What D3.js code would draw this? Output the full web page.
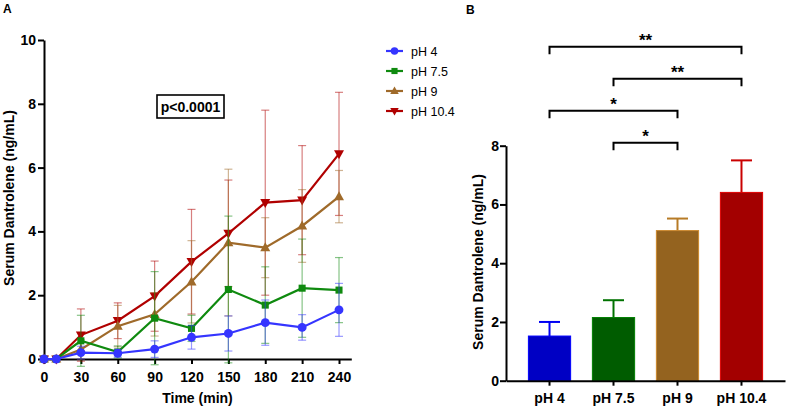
<!DOCTYPE html>
<html>
<head>
<meta charset="utf-8">
<script src="https://cdn.jsdelivr.net/npm/d3@7"></script>
<style>
  html, body { margin: 0; padding: 0; background: #fff; }
  svg { display: block; font-family: "Liberation Sans", Arial, sans-serif; }
  .axis path, .axis line { stroke: #000; stroke-width: 2px; }
  .axis text { font-size: 14px; font-weight: bold; fill: #000; }
</style>
</head>
<body>
<svg id="chart" width="789" height="408"></svg>
<script>
// Panel A: time course, mean and SD per pH group
var times = [0, 10, 30, 60, 90, 120, 150, 180, 210, 240];
var timeTicks = [0, 30, 60, 90, 120, 150, 180, 210, 240];
var seriesNames = ['pH 4', 'pH 7.5', 'pH 9', 'pH 10.4'];
var meanPH4 = [0, 0, 0.2, 0.18, 0.31, 0.68, 0.8, 1.14, 0.99, 1.54];
var sdPH4 = [0, 0, 0.2, 0.12, 0.26, 0.37, 0.55, 0.71, 0.4, 0.83];
var meanPH75 = [0, 0, 0.57, 0.22, 1.28, 0.96, 2.18, 1.69, 2.22, 2.16];
var sdPH75 = [0, 0, 0.8, 0.19, 1.46, 0.41, 2.3, 1.2, 1.54, 1.02];
var meanPH9 = [0, 0, 0.3, 1.03, 1.4, 2.42, 3.65, 3.49, 4.17, 5.09];
var sdPH9 = [0, 0, 0.3, 0.65, 0.68, 1.29, 2.3, 0.94, 1.14, 0.82];
var meanPH104 = [0, 0, 0.75, 1.2, 1.97, 3.05, 3.94, 4.9, 4.98, 6.43];
var sdPH104 = [0, 0, 0.82, 0.56, 1.1, 1.64, 1.67, 2.9, 1.71, 1.93];
var yTicksA = [0, 2, 4, 6, 8, 10];

// Panel B: mean at 240 min with upper SD
var barMeans = [1.52, 2.15, 5.11, 6.41];
var barErrs = [0.48, 0.59, 0.41, 1.09];
var yTicksB = [0, 2, 4, 6, 8];
// [left group, right group, label], top bracket first
var comparisons = [
  ['pH 4', 'pH 10.4', '**'],
  ['pH 7.5', 'pH 10.4', '**'],
  ['pH 4', 'pH 9', '*'],
  ['pH 7.5', 'pH 9', '*']
];

var lineColors = ['#3535ff', '#0f8a0f', '#9f6a2a', '#b00000'];
var barColors = ['#0000c4', '#005c00', '#94631f', '#a30000'];
var symbols = [d3.symbolCircle, d3.symbolSquare, 'up', 'down'];

var svg = d3.select('#chart');

// Triangle path, pointing up or down, centred on 0,0
function triangle(dir, s) {
  var h = s * 0.9;
  if (dir === 'up') {
    return 'M0,' + (-h * 0.6) + 'L' + (s / 2) + ',' + (h * 0.4) + 'L' + (-s / 2) + ',' + (h * 0.4) + 'Z';
  }
  return 'M0,' + (h * 0.6) + 'L' + (s / 2) + ',' + (-h * 0.4) + 'L' + (-s / 2) + ',' + (-h * 0.4) + 'Z';
}

function markerPath(sym, big) {
  if (sym === 'up' || sym === 'down') {
    return triangle(sym, big ? 10 : 8.5);
  }
  var size = sym === d3.symbolSquare ? (big ? 50 : 38) : (big ? 62 : 44);
  return d3.symbol().type(sym).size(size)();
}

// ---------- Panel A ----------
var xA = d3.scaleLinear().domain([0, 250]).range([44, 351.3]);
var yA = d3.scaleLinear().domain([0, 10]).range([359, 40]);

var gA = svg.append('g');

gA.append('g')
  .attr('class', 'axis')
  .attr('transform', 'translate(0,' + yA(0) + ')')
  .call(d3.axisBottom(xA).tickValues(timeTicks).tickSize(5).tickSizeOuter(0).tickPadding(8));

gA.append('g')
  .attr('class', 'axis')
  .attr('transform', 'translate(' + xA(0) + ',0)')
  .call(d3.axisLeft(yA).tickValues(yTicksA).tickSize(6).tickSizeOuter(0).tickPadding(2));

var seriesData = [
  { name: seriesNames[0], mean: meanPH4, sd: sdPH4 },
  { name: seriesNames[1], mean: meanPH75, sd: sdPH75 },
  { name: seriesNames[2], mean: meanPH9, sd: sdPH9 },
  { name: seriesNames[3], mean: meanPH104, sd: sdPH104 }
];

var line = d3.line()
  .x(function(d) { return xA(d.t); })
  .y(function(d) { return yA(d.m); });

// Draw highest pH first so pH 4 ends on top
for (var s = seriesData.length - 1; s >= 0; s--) {
  var ser = seriesData[s];
  var pts = times.map(function(t, i) { return { t: t, m: ser.mean[i], sd: ser.sd[i] }; });
  var gs = gA.append('g');
  var col = lineColors[s];

  var eb = gs.selectAll('.eb').data(pts.filter(function(d) { return d.sd > 0; }))
    .enter().append('g')
    .attr('stroke', col)
    .attr('stroke-opacity', 0.5)
    .attr('stroke-width', 1.2);
  eb.append('line')
    .attr('x1', function(d) { return xA(d.t); })
    .attr('x2', function(d) { return xA(d.t); })
    .attr('y1', function(d) { return yA(d.m - d.sd); })
    .attr('y2', function(d) { return yA(d.m + d.sd); });
  [1, -1].forEach(function(sign) {
    eb.append('line')
      .attr('x1', function(d) { return xA(d.t) - 4; })
      .attr('x2', function(d) { return xA(d.t) + 4; })
      .attr('y1', function(d) { return yA(d.m + sign * d.sd); })
      .attr('y2', function(d) { return yA(d.m + sign * d.sd); });
  });

  gs.append('path')
    .datum(pts)
    .attr('fill', 'none')
    .attr('stroke', col)
    .attr('stroke-width', 2.2)
    .attr('d', line);

  gs.selectAll('.mk').data(pts).enter().append('path')
    .attr('transform', function(d) { return 'translate(' + xA(d.t) + ',' + yA(d.m) + ')'; })
    .attr('d', markerPath(symbols[s], true))
    .attr('fill', col);
}

// p-value box
var pBox = gA.append('g');
pBox.append('rect')
  .attr('x', 157).attr('y', 95)
  .attr('width', 67).attr('height', 23)
  .attr('fill', '#fff').attr('stroke', '#000').attr('stroke-width', 1.6);
pBox.append('text')
  .attr('x', 190.5).attr('y', 111.5)
  .attr('text-anchor', 'middle')
  .style('font-size', '14px').style('font-weight', 'bold')
  .text('p<0.0001');

// Legend
var legend = gA.append('g').attr('transform', 'translate(386,51)');
seriesNames.forEach(function(name, i) {
  var li = legend.append('g').attr('transform', 'translate(0,' + (i * 20) + ')');
  li.append('line')
    .attr('x1', 0).attr('x2', 17)
    .attr('stroke', lineColors[i]).attr('stroke-width', 2.2);
  li.append('path')
    .attr('transform', 'translate(8.5,0)')
    .attr('d', markerPath(symbols[i], false))
    .attr('fill', lineColors[i]);
  li.append('text')
    .attr('x', 25).attr('y', 4.5)
    .style('font-size', '12.5px')
    .text(name);
});

gA.append('text')
  .attr('x', xA(0) + (xA(240) - xA(0)) / 2 + 6).attr('y', 403)
  .attr('text-anchor', 'middle')
  .style('font-size', '14px').style('font-weight', 'bold')
  .text('Time (min)');

gA.append('text')
  .attr('transform', 'translate(14,198) rotate(-90)')
  .attr('text-anchor', 'middle')
  .style('font-size', '14px').style('font-weight', 'bold')
  .text('Serum Dantrolene (ng/mL)');

gA.append('text')
  .attr('x', 3).attr('y', 13)
  .style('font-size', '12px').style('font-weight', 'bold')
  .text('A');

// ---------- Panel B ----------
var xB = d3.scaleBand().domain(seriesNames).range([506, 785])
  .paddingInner(0.34).paddingOuter(0.35);
var yB = d3.scaleLinear().domain([0, 8]).range([380.7, 145.7]);

var gB = svg.append('g');

var bars = seriesNames.map(function(n, i) {
  return { name: n, mean: barMeans[i], err: barErrs[i], color: barColors[i] };
});

// Upper error bars
var beb = gB.selectAll('.beb').data(bars).enter().append('g')
  .attr('stroke', function(d) { return d3.color(d.color).brighter(0.6); })
  .attr('stroke-width', 2);
beb.append('line')
  .attr('x1', function(d) { return xB(d.name) + xB.bandwidth() / 2; })
  .attr('x2', function(d) { return xB(d.name) + xB.bandwidth() / 2; })
  .attr('y1', function(d) { return yB(d.mean); })
  .attr('y2', function(d) { return yB(d.mean + d.err); });
beb.append('line')
  .attr('x1', function(d) { return xB(d.name) + xB.bandwidth() / 2 - 10.5; })
  .attr('x2', function(d) { return xB(d.name) + xB.bandwidth() / 2 + 10.5; })
  .attr('y1', function(d) { return yB(d.mean + d.err); })
  .attr('y2', function(d) { return yB(d.mean + d.err); });

gB.selectAll('.bar').data(bars).enter().append('rect')
  .attr('x', function(d) { return xB(d.name); })
  .attr('width', xB.bandwidth())
  .attr('y', function(d) { return yB(d.mean); })
  .attr('height', function(d) { return yB(0) - yB(d.mean); })
  .attr('fill', function(d) { return d.color; })
  .attr('stroke', function(d) { return d3.color(d.color).brighter(0.9); })
  .attr('stroke-width', 1);

gB.append('g')
  .attr('class', 'axis')
  .attr('transform', 'translate(0,' + yB(0) + ')')
  .call(d3.axisBottom(xB).tickSize(5).tickSizeOuter(0).tickPadding(7));

gB.append('g')
  .attr('class', 'axis')
  .attr('transform', 'translate(506,0)')
  .call(d3.axisLeft(yB).tickValues(yTicksB).tickSize(6).tickSizeOuter(0).tickPadding(1));

// Significance brackets, stacked above the bars
var levelStep = 1.09;
comparisons.forEach(function(c, i) {
  var level = 8.1 + (comparisons.length - 1 - i) * levelStep;
  var x1 = xB(c[0]) + xB.bandwidth() / 2;
  var x2 = xB(c[1]) + xB.bandwidth() / 2;
  var y = yB(level);
  gB.append('path')
    .attr('d', 'M' + x1 + ',' + (y + 7.5) + 'V' + y + 'H' + x2 + 'V' + (y + 7.5))
    .attr('fill', 'none').attr('stroke', '#000').attr('stroke-width', 2);
  gB.append('text')
    .attr('x', (x1 + x2) / 2).attr('y', y - 1)
    .attr('text-anchor', 'middle')
    .style('font-size', '17px').style('font-weight', 'bold')
    .text(c[2]);
});

gB.append('text')
  .attr('transform', 'translate(483,262) rotate(-90)')
  .attr('text-anchor', 'middle')
  .style('font-size', '14px').style('font-weight', 'bold')
  .text('Serum Dantrolene (ng/mL)');

gB.append('text')
  .attr('x', 466).attr('y', 14)
  .style('font-size', '12px').style('font-weight', 'bold')
  .text('B');
</script>
</body>
</html>
